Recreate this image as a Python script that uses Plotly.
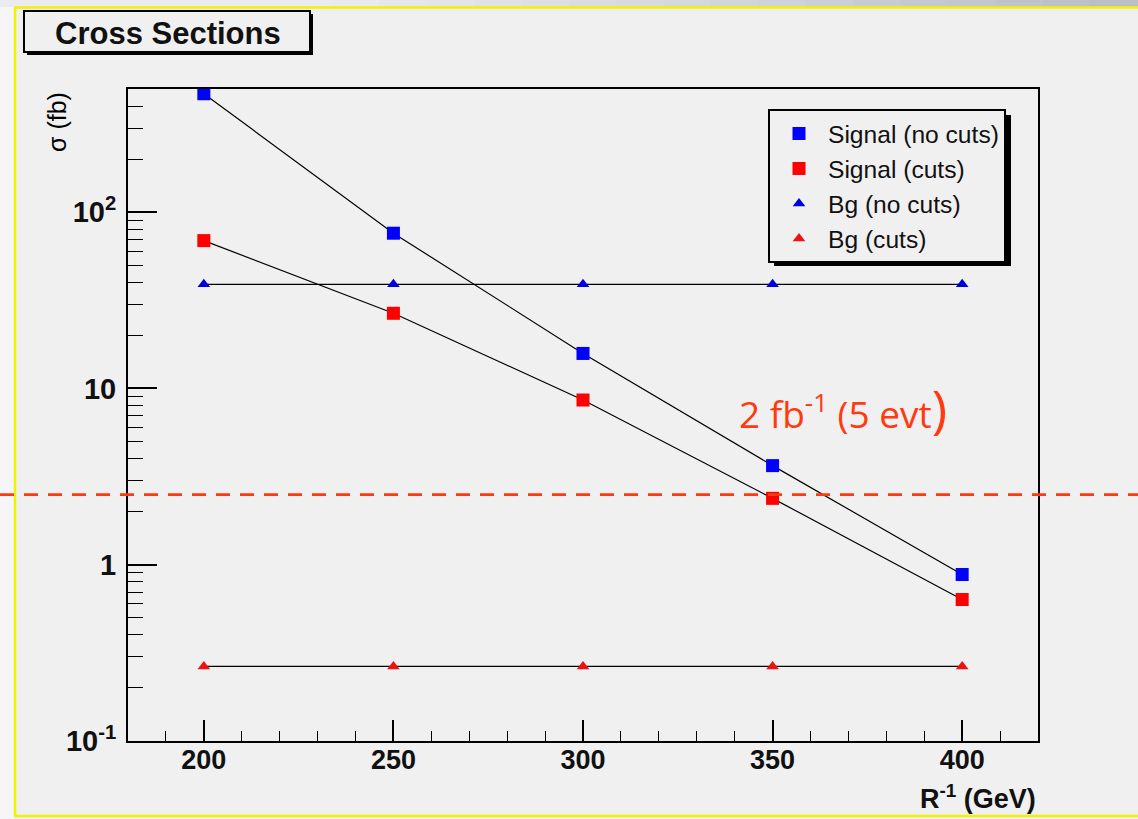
import numpy as np
import plotly.graph_objects as go

# Compactification scale R^-1 (GeV)
r_inv = [200, 250, 300, 350, 400]

# Cross sections (fb)
signal_nocuts = [470, 76, 15.8, 3.65, 0.88]
signal_cuts = [69, 26.7, 8.6, 2.38, 0.635]
bg_nocuts = [39, 39, 39, 39, 39]
bg_cuts = [0.265, 0.265, 0.265, 0.265, 0.265]

# 5 events in 2 fb^-1
discovery_level = 2.5

y_tickvals = [0.1, 1, 10, 100]
y_ticktext = ["10<sup>-1</sup>", "1", "10", "10<sup>2</sup>"]
x_tickvals = [200, 250, 300, 350, 400]
x_ticktext = ["200", "250", "300", "350", "400"]

X_RANGE = [180, 420]
Y_RANGE = [-1, np.log10(500)]

W, H = 1138, 819
M_L, M_R, M_T, M_B = 128, 100, 89, 78
BG = "#f0f0f0"


def px(x):
    return (x - M_L) / (W - M_L - M_R)


def py(y):
    return (H - M_B - y) / (H - M_T - M_B)


fig = go.Figure()

series = [
    ("Signal (no cuts)", signal_nocuts, "#0000ff", "square", 13),
    ("Signal (cuts)", signal_cuts, "#ff0000", "square", 13),
    ("Bg (no cuts)", bg_nocuts, "#0000dd", "triangle-up", 11),
    ("Bg (cuts)", bg_cuts, "#ee1111", "triangle-up", 11),
]

# connecting lines
for name, vals, col, sym, sz in series:
    fig.add_trace(go.Scatter(x=r_inv, y=vals, mode="lines",
                             line=dict(color="black", width=1.2),
                             showlegend=False, hoverinfo="skip"))
# markers
for name, vals, col, sym, sz in series:
    fig.add_trace(go.Scatter(x=r_inv, y=vals, mode="markers", name=name,
                             marker=dict(symbol=sym, size=sz, color=col,
                                         line=dict(width=0))))

# minor tick positions on the log axis
minor_y = [m * 10.0 ** e for e in range(-1, 3) for m in range(2, 10) if m * 10.0 ** e <= 500]

shapes = []
# top band of the page
n_seg = 24
for i in range(n_seg):
    t = i / (n_seg - 1)
    c0 = np.array([234, 235, 238])
    c1 = np.array([186, 190, 198])
    w = max(0.0, (t - 0.3) / 0.7)
    c = (c0 * (1 - w) + c1 * w).astype(int)
    shapes.append(dict(type="rect", xref="paper", yref="paper",
                       x0=px(i * W / n_seg), x1=px((i + 1) * W / n_seg + 1),
                       y0=py(7), y1=py(0), line=dict(width=0),
                       fillcolor=f"rgb({c[0]},{c[1]},{c[2]})", layer="below"))
# left strip
shapes.append(dict(type="rect", xref="paper", yref="paper",
                   x0=px(0), x1=px(14), y0=py(H), y1=py(7),
                   line=dict(width=0), fillcolor="#f6f6f8", layer="below"))
# yellow slide frame
for (x0, y0, x1, y1) in [(14, 7.5, W, 7.5), (15, 7, 15, 816), (14, 816, W, 816)]:
    shapes.append(dict(type="line", xref="paper", yref="paper",
                       x0=px(x0), y0=py(y0), x1=px(x1), y1=py(y1),
                       line=dict(color="#f2f200", width=2.5)))

# title box with shadow
shapes.append(dict(type="rect", xref="paper", yref="paper",
                   x0=px(27), x1=px(313), y0=py(55), y1=py(14),
                   line=dict(width=0), fillcolor="black"))
shapes.append(dict(type="rect", xref="paper", yref="paper",
                   x0=px(24), x1=px(310), y0=py(52), y1=py(11),
                   line=dict(color="black", width=2), fillcolor=BG))

# legend shadow
shapes.append(dict(type="rect", xref="paper", yref="paper",
                   x0=px(774), x1=px(1011), y0=py(266), y1=py(115),
                   line=dict(width=0), fillcolor="black"))

# horizontal discovery line (spans the whole page)
y_frac = (np.log10(discovery_level) - Y_RANGE[0]) / (Y_RANGE[1] - Y_RANGE[0])
shapes.append(dict(type="line", xref="paper", yref="paper",
                   x0=px(0), x1=px(W), y0=y_frac, y1=y_frac,
                   line=dict(color="#ff3a10", width=2.6, dash="14px,10px")))

annotations = [
    dict(text="<b>Cross Sections</b>", xref="paper", yref="paper",
         x=px(53), y=py(33), xanchor="left", yanchor="middle", showarrow=False,
         font=dict(family="Liberation Sans", size=31, color="#111")),
    dict(text="<b>R<sup>-1</sup> (GeV)</b>", xref="paper", yref="paper",
         x=px(1038), y=py(797), xanchor="right", yanchor="middle", showarrow=False,
         font=dict(family="Liberation Sans", size=27, color="#111")),
    dict(text="σ (fb)", xref="paper", yref="paper", textangle=-90,
         x=px(57), y=py(122), xanchor="center", yanchor="middle", showarrow=False,
         font=dict(family="Liberation Sans", size=25, color="#000")),
    dict(text="2 fb<sup>-1</sup> (5 evt<span style='font-size:52px'>)</span>",
         xref="paper", yref="paper", x=px(737), y=py(408),
         xanchor="left", yanchor="middle", showarrow=False,
         font=dict(family="Open Sans", size=37, color="#ff3a10", weight=500)),
]

fig.update_layout(
    width=W, height=H,
    margin=dict(l=M_L, r=M_R, t=M_T, b=M_B),
    paper_bgcolor=BG, plot_bgcolor=BG,
    shapes=shapes, annotations=annotations,
    legend=dict(x=px(768), y=py(109), xanchor="left", yanchor="top",
                bgcolor=BG, bordercolor="black", borderwidth=2,
                font=dict(family="Liberation Sans", size=24.6, color="#111"),
                itemwidth=48),
    xaxis=dict(range=X_RANGE, tickmode="array", tickvals=x_tickvals, ticktext=x_ticktext,
               ticklabelstandoff=-6,
               ticks="inside", ticklen=21, tickwidth=1.5, tickcolor="black",
               minor=dict(dtick=10, tick0=0, ticks="inside", ticklen=10,
                          tickwidth=1.2, tickcolor="black"),
               showline=True, linecolor="black", linewidth=2, mirror=True,
               showgrid=False, zeroline=False,
               tickfont=dict(family="Liberation Sans", size=27, color="#111", weight="bold")),
    yaxis=dict(type="log", range=Y_RANGE, tickmode="array", tickvals=y_tickvals,
               ticktext=y_ticktext, ticklabelstandoff=4,
               ticks="inside", ticklen=29, tickwidth=1.5, tickcolor="black",
               minor=dict(tickvals=minor_y, ticks="inside", ticklen=15,
                          tickwidth=1.2, tickcolor="black"),
               showline=True, linecolor="black", linewidth=2, mirror=True,
               showgrid=False, zeroline=False,
               tickfont=dict(family="Liberation Sans", size=29, color="#111", weight="bold")),
)

fig.write_html("out.html")
